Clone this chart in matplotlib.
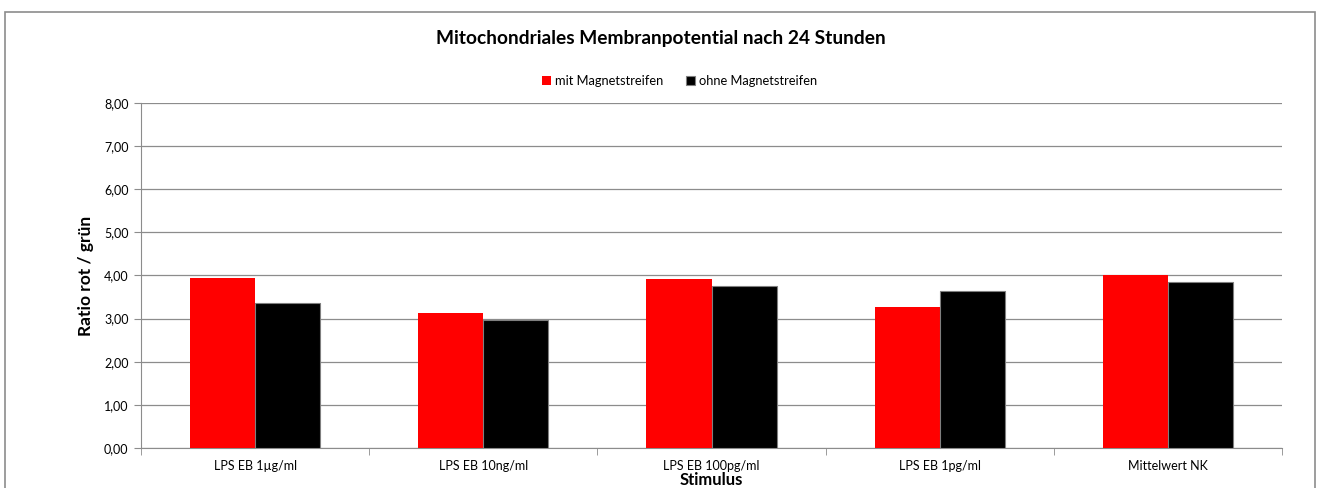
import matplotlib.pyplot as plt
import numpy as np
from matplotlib.patches import Rectangle
from matplotlib.ticker import FuncFormatter

plt.rcParams['font.family'] = ['Lato', 'DejaVu Sans']

categories = ["LPS EB 1µg/ml", "LPS EB 10ng/ml", "LPS EB 100pg/ml", "LPS EB 1pg/ml", "Mittelwert NK"]
mit = [3.93, 3.14, 3.91, 3.27, 4.00]
ohne = [3.36, 2.96, 3.75, 3.63, 3.85]
series_labels = ["mit Magnetstreifen", "ohne Magnetstreifen"]

fig = plt.figure(figsize=(13.22, 4.88), dpi=100)
ax = fig.add_axes([0.1067, 0.082, 0.863, 0.707])

# outer chart frame
fig.patches.append(Rectangle((0.0038, -0.02), 0.991, 0.995, transform=fig.transFigure,
                             fill=False, edgecolor="#8c8c8c", linewidth=1.2))

x = np.arange(len(categories))
w = 0.285
ax.bar(x - w / 2, mit, w, color="#ff0000", label=series_labels[0], zorder=3)
ax.bar(x + w / 2, ohne, w, color="#000000", edgecolor="#7f7f7f", linewidth=0.8,
       label=series_labels[1], zorder=3)

ax.set_xlim(-0.5, len(categories) - 0.5)
ax.set_ylim(0, 8)
ax.set_yticks(np.arange(0, 9, 1))
ax.yaxis.set_major_formatter(FuncFormatter(lambda v, p: f"{v:.2f}".replace(".", ",")))
ax.grid(axis="y", color="#8c8c8c", linewidth=0.9, zorder=0)

ax.set_xticks(x)
ax.set_xticklabels(categories)
ax.set_xticks(np.arange(-0.5, len(categories), 1), minor=True)
ax.tick_params(axis="x", which="major", length=0, pad=9, labelsize=9)
ax.tick_params(axis="x", which="minor", length=5, color="#8c8c8c", direction="out")
ax.tick_params(axis="y", length=5, color="#8c8c8c", labelsize=9, pad=4)

for s in ["top", "right"]:
    ax.spines[s].set_visible(False)
for s in ["left", "bottom"]:
    ax.spines[s].set_color("#8c8c8c")

ax.set_ylabel("Ratio rot / grün", fontsize=12.5, fontweight="bold", labelpad=7)
ax.set_xlabel("Stimulus", fontsize=12, fontweight="bold", labelpad=0)

fig.text(0.5, 0.922, "Mitochondriales Membranpotential nach 24 Stunden",
         ha="center", va="center", fontsize=13.8, fontweight="bold")

handles, labels = ax.get_legend_handles_labels()
fig.legend(handles, labels, loc="center", bbox_to_anchor=(0.514, 0.834), ncol=2,
           frameon=False, fontsize=9.3, handlelength=0.7, handleheight=0.7,
           handletextpad=0.3, columnspacing=1.8)

fig.savefig("out.png", dpi=100)
